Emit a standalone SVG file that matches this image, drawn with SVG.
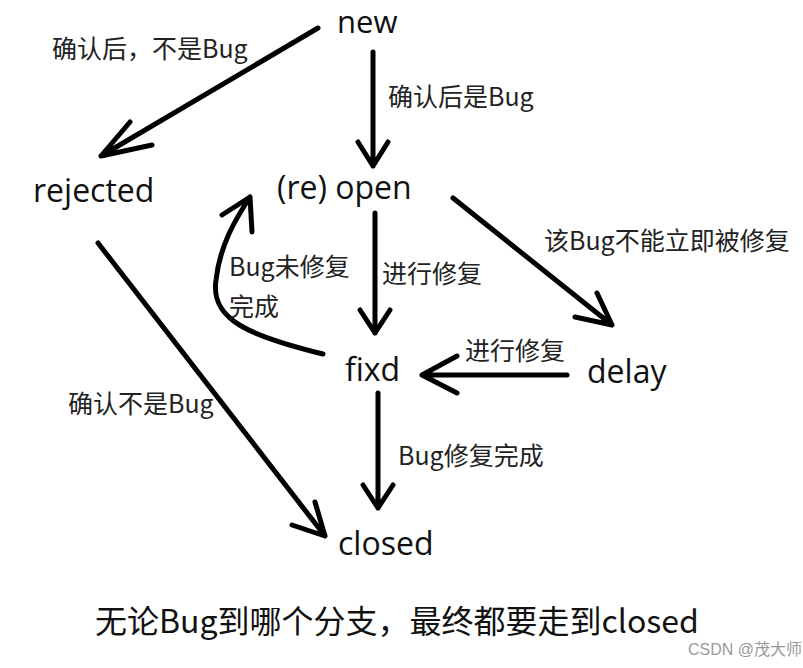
<svg xmlns="http://www.w3.org/2000/svg" width="803" height="668" viewBox="0 0 803 668">
<style>
.n{font-family:"Open Sans","Noto Sans",sans-serif;font-size:32px;fill:#111}
.l{font-family:"Noto Sans CJK SC","Noto Sans",sans-serif;font-size:25px;fill:#222}
.a{fill:none;stroke:#000;stroke-width:5;stroke-linecap:round;stroke-linejoin:round}
</style>
<rect width="803" height="668" fill="#fff"/>
<g id="connectors">
<path class="a" d="M318,28 L101,156 M130,122 L101,156 L152,145"/>
<path class="a" d="M373,52 L373,166 M358,142 L373,166 L388,142"/>
<path class="a" d="M375,213 L375,333 M360,310 L375,333 L390,310"/>
<path class="a" d="M453,198 L612,325 M597,293 L612,325 L575,317"/>
<path class="a" d="M567,375 L422,375 M457,356 L422,375 L457,393"/>
<path class="a" d="M323,354 C250,336 210,320 216,280 C220,245 235,220 250,197 M222,215 L250,197 L252,232"/>
<path class="a" d="M98,243 L325,536 M292,525 L325,536 L315,502"/>
<path class="a" d="M378,393 L378,508 M363,485 L378,508 L393,485"/>
</g>
<g id="new"><text class="n" x="337" y="33" style="font-size:31px">new</text></g>
<g id="rejected"><text class="n" x="33" y="202">rejected</text></g>
<g id="open"><text class="n" x="277" y="199">(re) open</text></g>
<g id="fixd"><text class="n" x="345" y="381">fixd</text></g>
<g id="delay"><text class="n" x="587" y="383">delay</text></g>
<g id="closed"><text class="n" x="338" y="555">closed</text></g>
<g id="labels">
<text class="l" x="52" y="58">确认后，不是Bug</text>
<text class="l" x="388" y="106">确认后是Bug</text>
<text class="l" x="544" y="250">该Bug不能立即被修复</text>
<text class="l" x="229" y="276">Bug未修复</text>
<text class="l" x="229" y="316">完成</text>
<text class="l" x="382" y="283">进行修复</text>
<text class="l" x="465" y="360">进行修复</text>
<text class="l" x="68" y="413">确认不是Bug</text>
<text class="l" x="398" y="465">Bug修复完成</text>
<text x="95" y="633" style="font-family:'Noto Sans CJK SC',sans-serif;font-size:32px;fill:#111">无论Bug到哪个分支，最终都要走到closed</text>
<text x="688" y="655" style="font-family:'Liberation Sans','Noto Sans CJK SC',sans-serif;font-size:16px;fill:#999">CSDN @茂大师</text>
</g>
</svg>
